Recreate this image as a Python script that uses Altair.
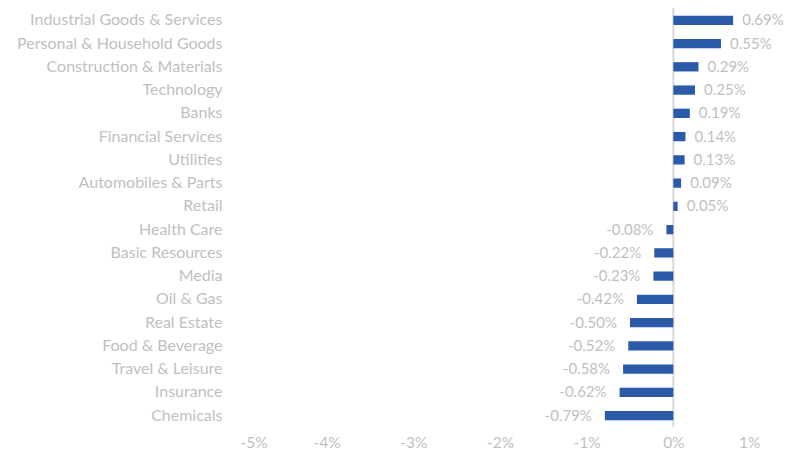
import altair as alt
import pandas as pd

sectors = [
    "Industrial Goods & Services", "Personal & Household Goods", "Construction & Materials",
    "Technology", "Banks", "Financial Services", "Utilities", "Automobiles & Parts", "Retail",
    "Health Care", "Basic Resources", "Media", "Oil & Gas", "Real Estate", "Food & Beverage",
    "Travel & Leisure", "Insurance", "Chemicals",
]
values = [0.69, 0.55, 0.29, 0.25, 0.19, 0.14, 0.13, 0.09, 0.05,
          -0.08, -0.22, -0.23, -0.42, -0.50, -0.52, -0.58, -0.62, -0.79]
x_ticks = [-5, -4, -3, -2, -1, 0, 1]

df = pd.DataFrame({"sector": sectors, "value": values})
df["label"] = [f"{v:.2f}%" for v in values]

FONT = "Lato"
GREY = "#bfbfbf"
H = 414

y_enc = alt.Y("sector:N", sort=sectors, title=None,
              scale=alt.Scale(paddingInner=0.6, paddingOuter=0.2),
              axis=alt.Axis(domain=False, ticks=False, labelPadding=18,
                            labelFont=FONT, labelFontSize=16, labelColor=GREY,
                            labelLimit=300))
x_enc = alt.X("value:Q", title=None,
              scale=alt.Scale(domain=[-5, 1], nice=False),
              axis=alt.Axis(values=x_ticks, grid=False, domain=False, ticks=False,
                            labelPadding=10, labelFont=FONT, labelFontSize=15.5,
                            labelColor=GREY, labelExpr="datum.value + '%'"))

base = alt.Chart(df)

zero = alt.Chart(pd.DataFrame({"z": [0]})).mark_rule(color="#d9d9d9", strokeWidth=2).encode(
    x=alt.X("z:Q", scale=alt.Scale(domain=[-5, 1], nice=False)),
    y=alt.value(-3), y2=alt.value(H + 2),
)

bars = base.mark_bar(color="#2b5ba8").encode(x=x_enc, y=y_enc)

pos_text = base.transform_filter("datum.value >= 0").mark_text(
    align="left", dx=9, font=FONT, fontSize=15, color=GREY
).encode(x="value:Q", y=alt.Y("sector:N", sort=sectors), text="label:N")

neg_text = base.transform_filter("datum.value < 0").mark_text(
    align="right", dx=-13, font=FONT, fontSize=15, color=GREY
).encode(x="value:Q", y=alt.Y("sector:N", sort=sectors), text="label:N")

chart = alt.layer(zero, bars, pos_text, neg_text).properties(
    width=520, height=H,
    autosize=alt.AutoSizeParams(type="none"),
    padding={"left": 232, "top": 3, "right": 24, "bottom": 24},
).configure_view(stroke=None)

chart.save("out.html", embed_options={"renderer": "svg", "actions": False})
